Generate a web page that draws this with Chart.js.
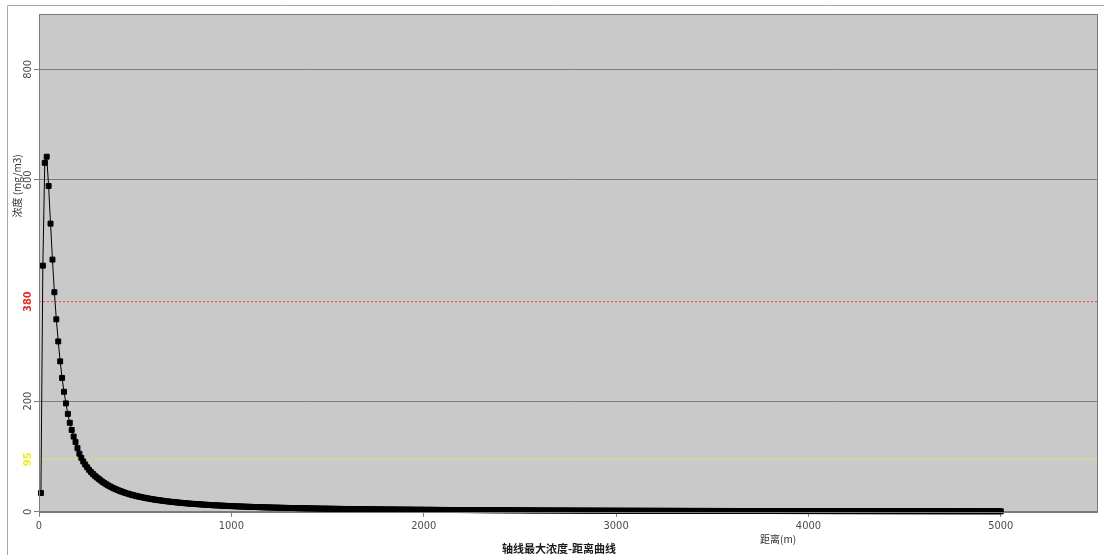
<!DOCTYPE html>
<html>
<head>
<meta charset="utf-8">
<title>轴线最大浓度-距离曲线</title>
<script src="https://cdn.jsdelivr.net/npm/chart.js@4/dist/chart.umd.min.js"></script>
<style>
  html, body { margin: 0; padding: 0; background: #ffffff; }
  #wrap { position: relative; width: 1104px; height: 555px; }
  canvas { display: block; }
</style>
</head>
<body>
<div id="wrap"><canvas id="chart" width="1104" height="555"></canvas></div>
<script>
// Sampling step along the plume axis (m)
const STEP_M = 10;

// Maximum axial concentration (mg/m3), one value per 10 m, grouped per kilometre
const conc_0_1000 = [
  34, 445, 631, 642, 589, 521, 456, 397, 348, 308,
  272, 242, 217, 196, 177, 161, 148, 136, 126, 115,
  105, 97.5, 91.0, 85.5, 80.5, 76.0, 72.0, 68.5, 65.2, 62.2,
  59.6, 56.8, 54.3, 51.9, 49.7, 47.6, 45.7, 43.9, 42.2, 40.7,
  39.2, 37.8, 36.5, 35.2, 34.1, 33.0, 31.9, 30.9, 30.0, 29.1,
  28.2, 27.4, 26.7, 25.9, 25.2, 24.5, 23.9, 23.3, 22.7, 22.1,
  21.6, 21.1, 20.6, 20.1, 19.6, 19.2, 18.8, 18.3, 17.9, 17.6,
  17.2, 16.8, 16.5, 16.2, 15.8, 15.5, 15.2, 14.9, 14.6, 14.4,
  14.1, 13.9, 13.6, 13.4, 13.1, 12.9, 12.7, 12.5, 12.3, 12.0,
  11.8, 11.7, 11.5, 11.3, 11.1, 10.9, 10.8, 10.6, 10.4, 10.3
];
const conc_1000_2000 = [
  10.14, 9.99, 9.84, 9.70, 9.56, 9.43, 9.30, 9.17, 9.04, 8.92,
  8.80, 8.69, 8.57, 8.46, 8.34, 8.24, 8.13, 8.03, 7.92, 7.82,
  7.73, 7.64, 7.55, 7.46, 7.36, 7.28, 7.19, 7.10, 7.02, 6.94,
  6.86, 6.78, 6.71, 6.63, 6.56, 6.49, 6.42, 6.35, 6.28, 6.21,
  6.15, 6.08, 6.02, 5.95, 5.89, 5.83, 5.77, 5.71, 5.66, 5.60,
  5.54, 5.49, 5.44, 5.38, 5.33, 5.28, 5.23, 5.18, 5.13, 5.08,
  5.03, 4.99, 4.94, 4.90, 4.85, 4.81, 4.77, 4.72, 4.68, 4.64,
  4.60, 4.56, 4.52, 4.48, 4.45, 4.41, 4.37, 4.33, 4.30, 4.26,
  4.23, 4.19, 4.16, 4.12, 4.09, 4.06, 4.02, 3.99, 3.96, 3.93,
  3.90, 3.87, 3.84, 3.81, 3.78, 3.75, 3.72, 3.70, 3.67, 3.64
];
const conc_2000_3000 = [
  3.61, 3.59, 3.56, 3.53, 3.51, 3.48, 3.46, 3.43, 3.41, 3.38,
  3.36, 3.33, 3.31, 3.29, 3.26, 3.24, 3.22, 3.20, 3.17, 3.15,
  3.13, 3.11, 3.09, 3.07, 3.05, 3.03, 3.01, 2.99, 2.97, 2.95,
  2.93, 2.91, 2.90, 2.88, 2.86, 2.84, 2.82, 2.81, 2.79, 2.77,
  2.75, 2.74, 2.72, 2.70, 2.69, 2.67, 2.65, 2.64, 2.62, 2.60,
  2.59, 2.57, 2.56, 2.54, 2.53, 2.51, 2.50, 2.48, 2.47, 2.45,
  2.44, 2.43, 2.41, 2.40, 2.39, 2.37, 2.36, 2.35, 2.33, 2.32,
  2.31, 2.30, 2.28, 2.27, 2.26, 2.25, 2.24, 2.22, 2.21, 2.20,
  2.19, 2.18, 2.16, 2.15, 2.14, 2.13, 2.12, 2.10, 2.09, 2.08,
  2.07, 2.06, 2.05, 2.04, 2.03, 2.02, 2.01, 2.00, 1.99, 1.98
];
const conc_3000_4000 = [
  1.97, 1.96, 1.95, 1.94, 1.93, 1.92, 1.91, 1.90, 1.89, 1.88,
  1.87, 1.86, 1.86, 1.85, 1.84, 1.83, 1.82, 1.82, 1.81, 1.80,
  1.79, 1.78, 1.78, 1.77, 1.76, 1.75, 1.74, 1.74, 1.73, 1.72,
  1.71, 1.70, 1.70, 1.69, 1.68, 1.67, 1.66, 1.66, 1.65, 1.64,
  1.63, 1.63, 1.62, 1.61, 1.61, 1.60, 1.59, 1.58, 1.58, 1.57,
  1.56, 1.56, 1.55, 1.55, 1.54, 1.53, 1.53, 1.52, 1.52, 1.51,
  1.50, 1.50, 1.49, 1.49, 1.48, 1.47, 1.47, 1.46, 1.46, 1.45,
  1.44, 1.44, 1.43, 1.43, 1.42, 1.41, 1.41, 1.40, 1.40, 1.39,
  1.38, 1.38, 1.37, 1.37, 1.36, 1.36, 1.35, 1.35, 1.34, 1.34,
  1.33, 1.33, 1.32, 1.32, 1.31, 1.31, 1.30, 1.30, 1.29, 1.29
];
const conc_4000_5000 = [
  1.28, 1.28, 1.27, 1.27, 1.26, 1.26, 1.25, 1.25, 1.24, 1.24,
  1.24, 1.23, 1.23, 1.22, 1.22, 1.21, 1.21, 1.21, 1.20, 1.20,
  1.19, 1.19, 1.18, 1.18, 1.17, 1.17, 1.16, 1.16, 1.15, 1.15,
  1.15, 1.14, 1.14, 1.13, 1.13, 1.13, 1.12, 1.12, 1.11, 1.11,
  1.11, 1.10, 1.10, 1.10, 1.09, 1.09, 1.09, 1.08, 1.08, 1.08,
  1.07, 1.07, 1.07, 1.06, 1.06, 1.05, 1.05, 1.05, 1.04, 1.04,
  1.04, 1.03, 1.03, 1.03, 1.02, 1.02, 1.02, 1.01, 1.01, 1.01,
  1.00, 1.00, 1.00, 0.99, 0.99, 0.99, 0.99, 0.98, 0.98, 0.98,
  0.97, 0.97, 0.97, 0.97, 0.96, 0.96, 0.96, 0.95, 0.95, 0.95,
  0.95, 0.94, 0.94, 0.94, 0.93, 0.93, 0.93, 0.93, 0.92, 0.92
];

// Start distance (m) of each kilometre block above
const blockStarts = [0, 1000, 2000, 3000, 4000];
const blocks = [conc_0_1000, conc_1000_2000, conc_2000_3000, conc_3000_4000, conc_4000_5000];

// Threshold concentrations (mg/m3)
const limitRed = 380;
const limitYellow = 95;

// Axis ticks and ranges
const xTicks = [0, 1000, 2000, 3000, 4000, 5000];
const yTicks = [0, 200, 600, 800];
const xMax = 5500;
const yMax = 900;

// Texts
const chartTitle = '轴线最大浓度-距离曲线';
const xTitle = '距离(m)';
const yTitle = '浓度 (mg/m3)';

const concPoints = [];
blocks.forEach((vals, b) => {
  vals.forEach((v, i) => {
    concPoints.push({ x: blockStarts[b] + (i + 1) * STEP_M, y: v });
  });
});

const NARROW = '"Liberation Sans Narrow", "DejaVu Sans Condensed", "Liberation Sans", Arial, sans-serif';
const CJK = '"Noto Sans CJK SC", "Noto Sans", sans-serif';
const AXIS_GRAY = '#7c7c7c';
const LABEL_GRAY = '#4c4c4c';

const decor = {
  id: 'decor',
  beforeDraw(chart) {
    const ctx = chart.ctx;
    const a = chart.chartArea;
    ctx.save();
    ctx.fillStyle = '#ffffff';
    ctx.fillRect(0, 0, chart.width, chart.height);
    // outer frame
    ctx.strokeStyle = '#a8a8a8';
    ctx.lineWidth = 1;
    ctx.beginPath();
    ctx.moveTo(7.5, chart.height);
    ctx.lineTo(7.5, 5.5);
    ctx.lineTo(chart.width, 5.5);
    ctx.stroke();
    // plot background
    ctx.fillStyle = '#c9c9c9';
    ctx.fillRect(a.left, a.top, a.right - a.left, a.bottom - a.top);
    ctx.restore();
  },
  afterDraw(chart) {
    const ctx = chart.ctx;
    const a = chart.chartArea;
    const ys = chart.scales.y;
    ctx.save();
    // plot frame
    ctx.strokeStyle = AXIS_GRAY;
    ctx.lineWidth = 1;
    ctx.strokeRect(Math.round(a.left) + 0.5, Math.round(a.top) + 0.5,
                   Math.round(a.right - a.left), Math.round(a.bottom - a.top));

    // y tick labels, rotated
    const drawYLabel = (v, color, weight) => {
      const y = ys.getPixelForValue(v);
      ctx.save();
      ctx.translate(28, y);
      ctx.rotate(-Math.PI / 2);
      ctx.fillStyle = color;
      ctx.font = weight + ' 11px ' + NARROW;
      ctx.textAlign = 'center';
      ctx.textBaseline = 'middle';
      ctx.fillText(String(v), 0, 0);
      ctx.restore();
    };
    yTicks.forEach(v => drawYLabel(v, LABEL_GRAY, 'normal'));
    drawYLabel(limitRed, '#e0302a', 'bold');
    drawYLabel(limitYellow, '#eeee1c', 'bold');

    // y axis title
    ctx.save();
    ctx.translate(17, 186);
    ctx.rotate(-Math.PI / 2);
    ctx.fillStyle = '#333333';
    ctx.font = '10px ' + CJK;
    ctx.textAlign = 'center';
    ctx.textBaseline = 'middle';
    ctx.fillText(yTitle, 0, 0);
    ctx.restore();

    // x axis title
    ctx.fillStyle = '#333333';
    ctx.font = '10px ' + CJK;
    ctx.textAlign = 'left';
    ctx.textBaseline = 'middle';
    ctx.fillText(xTitle, 760, 539);

    // chart title
    ctx.fillStyle = '#1a1a1a';
    ctx.font = 'bold 11px ' + CJK;
    ctx.textAlign = 'center';
    ctx.textBaseline = 'middle';
    ctx.fillText(chartTitle, 559, 549);
    ctx.restore();
  }
};

new Chart(document.getElementById('chart'), {
  type: 'line',
  data: {
    datasets: [
      {
        label: yTitle,
        data: concPoints,
        borderColor: '#000000',
        borderWidth: 1,
        backgroundColor: '#000000',
        pointStyle: 'rect',
        pointRadius: 3.5,
        pointBorderWidth: 1,
        pointBackgroundColor: '#000000',
        pointBorderColor: '#000000',
        tension: 0,
        clip: false,
        order: 0
      },
      {
        label: String(limitRed),
        data: [{ x: 0, y: limitRed }, { x: xMax, y: limitRed }],
        borderColor: '#f03c3c',
        borderWidth: 1,
        borderDash: [2, 2],
        pointRadius: 0,
        order: 1
      },
      {
        label: String(limitYellow),
        data: [{ x: 0, y: limitYellow }, { x: xMax, y: limitYellow }],
        borderColor: '#f2f238',
        borderWidth: 1,
        borderDash: [2, 2],
        pointRadius: 0,
        order: 1
      }
    ]
  },
  options: {
    responsive: false,
    animation: false,
    devicePixelRatio: 1,
    layout: { padding: { left: 34, top: 14, right: 7, bottom: 19 } },
    plugins: {
      legend: { display: false },
      tooltip: { enabled: false },
      title: { display: false }
    },
    scales: {
      x: {
        type: 'linear',
        min: 0,
        max: xMax,
        afterBuildTicks: s => { s.ticks = xTicks.map(v => ({ value: v })); },
        grid: { drawOnChartArea: false, drawTicks: true, tickLength: 5, color: AXIS_GRAY },
        border: { display: true, color: AXIS_GRAY },
        ticks: {
          color: LABEL_GRAY,
          font: { family: NARROW, size: 11 },
          padding: 3,
          maxRotation: 0,
          autoSkip: false,
          callback: v => String(v)
        }
      },
      y: {
        type: 'linear',
        min: 0,
        max: yMax,
        afterBuildTicks: s => { s.ticks = yTicks.map(v => ({ value: v })); },
        grid: { drawTicks: true, tickLength: 5, color: AXIS_GRAY },
        border: { display: true, color: AXIS_GRAY },
        ticks: { display: false }
      }
    }
  },
  plugins: [decor]
});
</script>
</body>
</html>
